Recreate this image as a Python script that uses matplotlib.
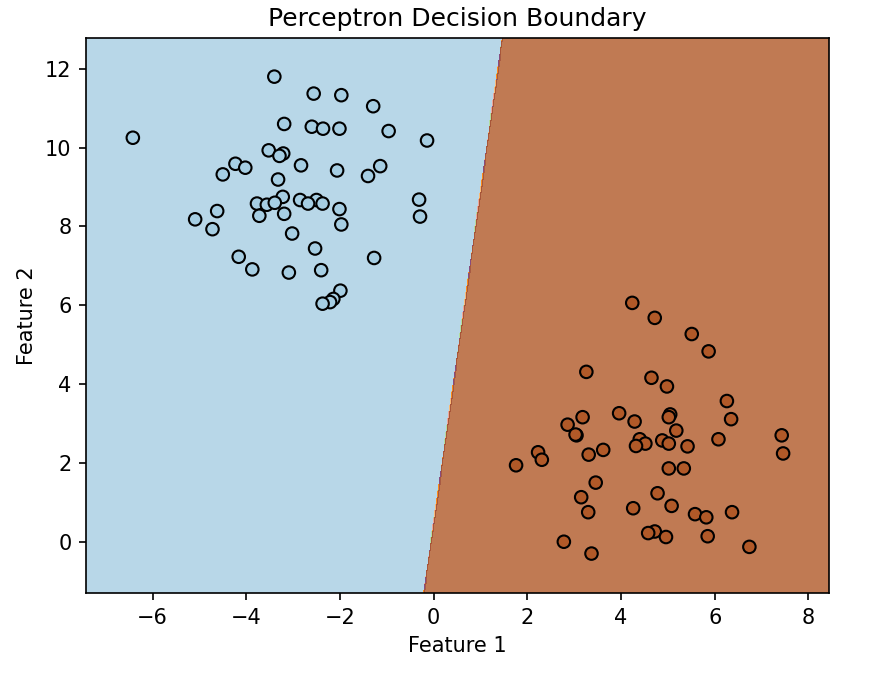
import numpy as np
import matplotlib
matplotlib.use("Agg")
import matplotlib.pyplot as plt

# class 0 points (blue)
x0 = [-6.42, -3.40, -2.56, -1.97, -1.29, -3.19, -2.60, -2.36, -2.01, -0.96,
      -0.14, -3.52, -3.21, -3.29, -4.23, -4.02, -2.83, -1.14, -4.50, -2.06,
      -1.40, -3.32, -3.22, -2.85, -2.50, -3.77, -3.56, -3.39, -2.68, -2.37,
      -0.31, -2.01, -4.62, -5.09, -3.72, -3.19, -0.29, -1.97, -4.72, -3.02,
      -2.53, -4.16, -1.27, -3.87, -3.09, -2.40, -1.99, -2.14, -2.21, -2.37]
y0 = [10.25, 11.80, 11.37, 11.33, 11.05, 10.60, 10.53, 10.48, 10.48, 10.42,
      10.18, 9.93, 9.85, 9.79, 9.59, 9.49, 9.55, 9.53, 9.32, 9.42,
      9.28, 9.19, 8.75, 8.67, 8.67, 8.58, 8.55, 8.60, 8.58, 8.58,
      8.68, 8.44, 8.39, 8.18, 8.27, 8.32, 8.25, 8.05, 7.93, 7.82,
      7.44, 7.23, 7.20, 6.91, 6.83, 6.89, 6.37, 6.16, 6.08, 6.04]

# class 1 points (brown)
x1 = [4.24, 4.72, 5.51, 5.87, 3.26, 4.65, 4.98, 6.26, 3.96, 5.05,
      5.02, 3.18, 6.35, 4.29, 2.86, 5.18, 3.05, 3.03, 4.40, 4.52,
      4.32, 4.88, 5.02, 5.42, 6.08, 7.43, 7.46, 2.23, 2.31, 1.76,
      3.31, 3.62, 5.02, 5.34, 3.46, 3.15, 4.78, 5.08, 4.26, 3.30,
      5.58, 5.82, 6.37, 4.72, 4.58, 4.96, 5.85, 2.78, 6.74, 3.37]
y1 = [6.06, 5.68, 5.27, 4.83, 4.31, 4.16, 3.94, 3.57, 3.26, 3.23,
      3.16, 3.16, 3.11, 3.05, 2.97, 2.82, 2.70, 2.72, 2.60, 2.49,
      2.43, 2.57, 2.49, 2.42, 2.60, 2.70, 2.24, 2.27, 2.08, 1.94,
      2.21, 2.33, 1.86, 1.86, 1.50, 1.13, 1.23, 0.91, 0.85, 0.75,
      0.70, 0.62, 0.75, 0.26, 0.22, 0.12, 0.14, 0.00, -0.13, -0.30]

# perceptron weights and bias
w = [1.0, -0.119]
b = 0.053

X = np.column_stack([x0 + x1, y0 + y1])
labels = np.array([0] * len(x0) + [1] * len(x1))

x_min, x_max = X[:, 0].min() - 1, X[:, 0].max() + 1
y_min, y_max = X[:, 1].min() - 1, X[:, 1].max() + 1
xx, yy = np.meshgrid(np.arange(x_min, x_max, 0.02), np.arange(y_min, y_max, 0.02))
Z = (w[0] * xx + w[1] * yy + b > 0).astype(int)

fig = plt.figure(figsize=(892 / 150, 673 / 150), dpi=150)
ax = fig.add_axes([0.0964, 0.1189, 0.833, 0.8246])
ax.contourf(xx, yy, Z, cmap=plt.cm.Paired, alpha=0.8)
ax.scatter(X[:, 0], X[:, 1], c=labels, cmap=plt.cm.Paired, edgecolors='k')
ax.set_title("Perceptron Decision Boundary")
ax.set_xlabel("Feature 1")
ax.set_ylabel("Feature 2")

fig.savefig("out.png", dpi=150)
